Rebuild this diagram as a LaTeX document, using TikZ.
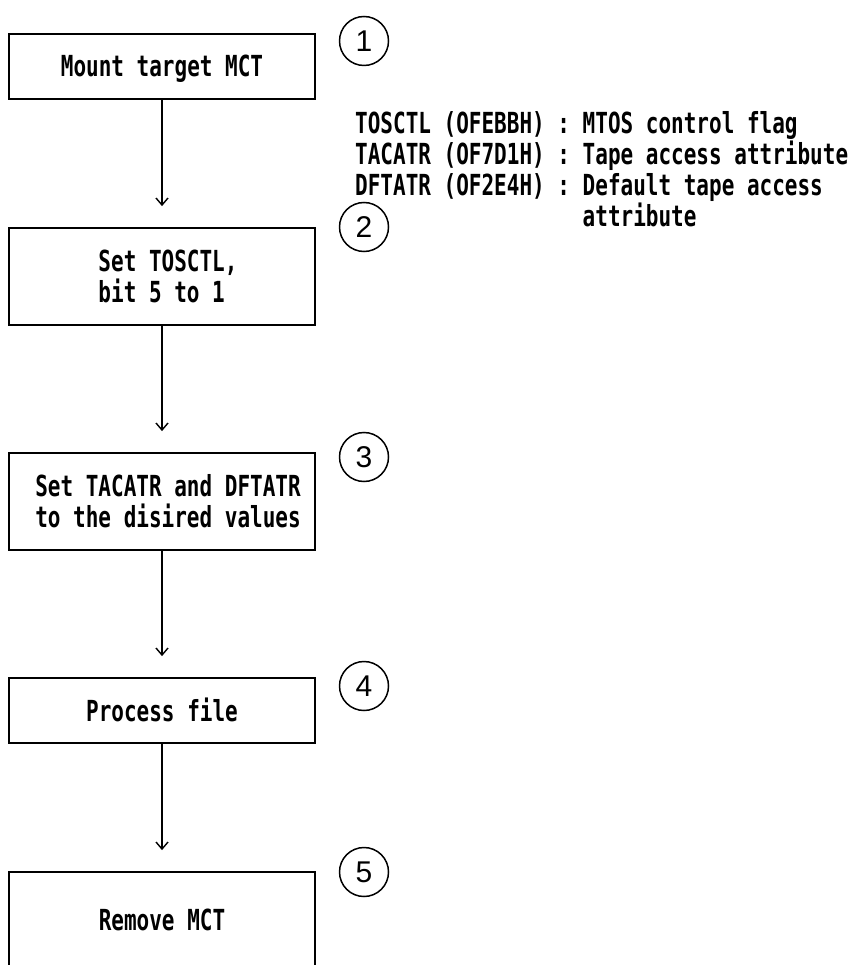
\documentclass[tikz,border=0pt]{standalone}
\usepackage{fontspec}
\setmainfont{Liberation Sans}
\newfontfamily\monofont[FakeStretch=0.724]{DejaVu Sans Mono}
\usetikzlibrary{arrows.meta}
\tikzset{
  box/.style={draw, line width=1.8pt, minimum width=306pt, inner sep=0pt,
    font=\monofont\bfseries\fontsize{29}{31}\selectfont},
  oneline/.style={text height=21pt, text depth=0pt},
  num/.style={draw, circle, line width=1.5pt, minimum size=49pt, inner sep=0pt,
    font=\fontsize{30}{32}\selectfont},
  flow/.style={line width=1.4pt, -{Straight Barb[length=7pt,width=12pt,line width=1.4pt]}},
  legend/.style={inner sep=0pt, align=left, font=\monofont\bfseries\fontsize{29}{31}\selectfont}
}
\begin{document}
\begin{tikzpicture}[x=1pt,y=-1pt]
\useasboundingbox (0,0) rectangle (853,965);
\begin{scope}
\clip (0,0) rectangle (853,965);
\node[box, oneline, minimum height=65pt] (b1) at (162,66.5) {Mount target MCT};
\node[box, align=left, minimum height=97pt] (b2) at (162,276.5) {\hspace*{12pt}Set TOSCTL,\\\hspace*{12pt}bit 5 to 1};
\node[box, align=left, minimum height=97pt] (b3) at (162,501.5) {\hspace*{12pt}Set TACATR and DFTATR\\\hspace*{12pt}to the disired values};
\node[box, oneline, minimum height=65pt] (b4) at (162,710.5) {Process file};
\node[box, oneline, minimum height=96pt] (b5) at (162,920) {Remove MCT};

\node[num] (n1) at (364,41) {1};
\node[num] (n2) at (364,227) {2};
\node[num] (n3) at (364,457) {3};
\node[num] (n4) at (364,686) {4};
\node[num] (n5) at (364,872) {5};

\draw[flow] (b1.south) -- ([yshift=21pt]b2.north);
\draw[flow] (b2.south) -- ([yshift=21pt]b3.north);
\draw[flow] (b3.south) -- ([yshift=21pt]b4.north);
\draw[flow] (b4.south) -- ([yshift=21pt]b5.north);

\node[legend, anchor=north west] (leg) at (355,111) {TOSCTL (OFEBBH) : MTOS control flag\\TACATR (OF7D1H) : Tape access attribute\\DFTATR (OF2E4H) : Default tape access\\\phantom{DFTATR (OF2E4H) : }attribute};
\end{scope}
\end{tikzpicture}
\end{document}
